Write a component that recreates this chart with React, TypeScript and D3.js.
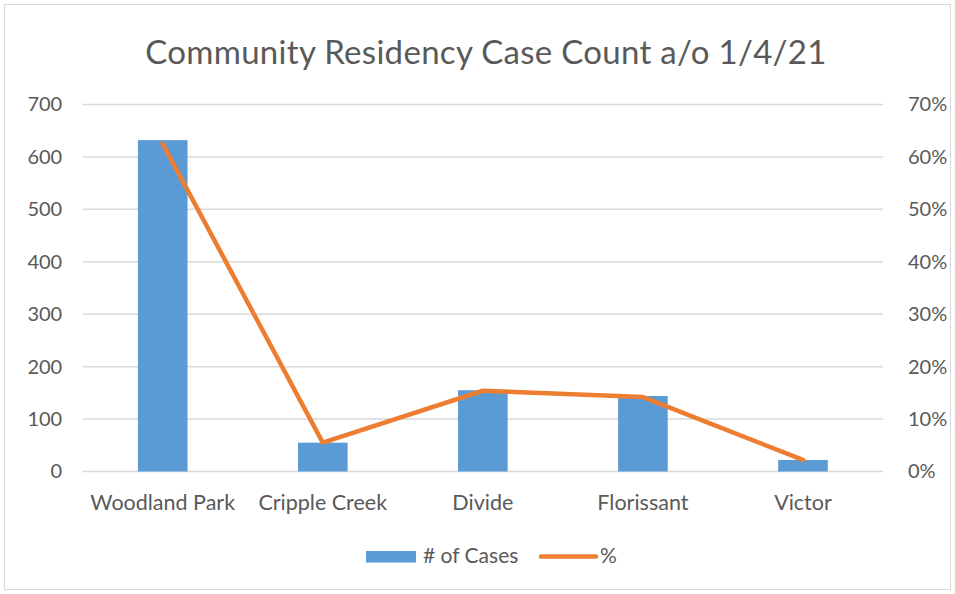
import { useEffect, useRef } from 'react';
import * as d3 from 'd3';

const title = 'Community Residency Case Count a/o 1/4/21';
const towns = ['Woodland Park', 'Cripple Creek', 'Divide', 'Florissant', 'Victor'];
const cases = [632, 55, 155, 144, 22];
const pct = [0.625, 0.055, 0.154, 0.142, 0.022];
const caseTicks = [0, 100, 200, 300, 400, 500, 600, 700];
const pctTicks = [0, 0.1, 0.2, 0.3, 0.4, 0.5, 0.6, 0.7];

const W = 955;
const H = 594;
const font = 'Lato, "Open Sans", sans-serif';
const textColor = '#595959';

const App = () => {
  const svgRef = useRef<SVGSVGElement>(null);

  useEffect(() => {
    const svg = d3.select(svgRef.current);
    svg.selectAll('*').remove();

    const left = 82.7;
    const right = 883;
    const top = 104.5;
    const bottom = 471.5;

    const x = d3.scaleBand().domain(towns).range([left, right]).paddingInner(0.69).paddingOuter(0.345);
    const xc = d3.scalePoint().domain(towns).range([left, right]).padding(0.5);
    const y = d3.scaleLinear().domain([0, 700]).range([bottom, top]);
    const y2 = d3.scaleLinear().domain([0, 0.7]).range([bottom, top]);

    svg.append('rect')
      .attr('x', 4.5).attr('y', 4.5).attr('width', W - 9).attr('height', H - 9)
      .attr('fill', 'white').attr('stroke', '#d9d9d9');

    svg.append('text')
      .attr('x', 486).attr('y', 64)
      .attr('text-anchor', 'middle')
      .attr('font-family', font).attr('font-size', 33)
      .attr('letter-spacing', 0.3)
      .attr('fill', textColor)
      .text(title);

    // gridlines
    svg.append('g')
      .selectAll('line')
      .data(caseTicks)
      .join('line')
      .attr('x1', left).attr('x2', right)
      .attr('y1', d => y(d)).attr('y2', d => y(d))
      .attr('stroke', '#d9d9d9').attr('stroke-width', 1.5);

    // left axis
    const gl = svg.append('g')
      .attr('transform', `translate(${left - 20.5},0)`)
      .call(d3.axisLeft(y).tickValues(caseTicks).tickSize(0).tickPadding(0));
    gl.select('.domain').remove();
    gl.selectAll('text').attr('font-family', font).attr('font-size', 20).attr('fill', textColor);

    // right axis
    const gr = svg.append('g')
      .attr('transform', `translate(${right + 25},0)`)
      .call(d3.axisRight(y2).tickValues(pctTicks).tickSize(0).tickPadding(0).tickFormat(d3.format('.0%')));
    gr.select('.domain').remove();
    gr.selectAll('text').attr('font-family', font).attr('font-size', 20).attr('fill', textColor);

    // bars
    svg.append('g')
      .selectAll('rect')
      .data(towns)
      .join('rect')
      .attr('x', d => x(d)!)
      .attr('width', x.bandwidth())
      .attr('y', (d, i) => y(cases[i]))
      .attr('height', (d, i) => y(0) - y(cases[i]))
      .attr('fill', '#5b9bd5');

    // line
    const line = d3.line<number>()
      .x((d, i) => xc(towns[i])!)
      .y(d => y2(d));
    svg.append('path')
      .datum(pct)
      .attr('d', line)
      .attr('fill', 'none')
      .attr('stroke', '#ed7d31')
      .attr('stroke-width', 4.5)
      .attr('stroke-linejoin', 'round')
      .attr('stroke-linecap', 'round');

    // category labels
    svg.append('g')
      .selectAll('text')
      .data(towns)
      .join('text')
      .attr('x', d => xc(d)!)
      .attr('y', 510)
      .attr('text-anchor', 'middle')
      .attr('font-family', font).attr('font-size', 21.5)
      .attr('fill', textColor)
      .text(d => d);

    // legend
    const lg = svg.append('g');
    lg.append('rect')
      .attr('x', 366).attr('y', 551).attr('width', 50).attr('height', 11.5)
      .attr('fill', '#5b9bd5');
    lg.append('text')
      .attr('x', 423).attr('y', 563)
      .attr('font-family', font).attr('font-size', 21).attr('fill', textColor)
      .text('# of Cases');
    lg.append('line')
      .attr('x1', 541).attr('x2', 596).attr('y1', 556.5).attr('y2', 556.5)
      .attr('stroke', '#ed7d31').attr('stroke-width', 4.5).attr('stroke-linecap', 'round');
    lg.append('text')
      .attr('x', 600).attr('y', 563)
      .attr('font-family', font).attr('font-size', 21).attr('fill', textColor)
      .text('%');
  }, []);

  return (
    <svg
      ref={svgRef}
      width={W}
      height={H}
      style={{ position: 'absolute', left: 0, top: 0, background: 'white' }}
    />
  );
};

export default App;
